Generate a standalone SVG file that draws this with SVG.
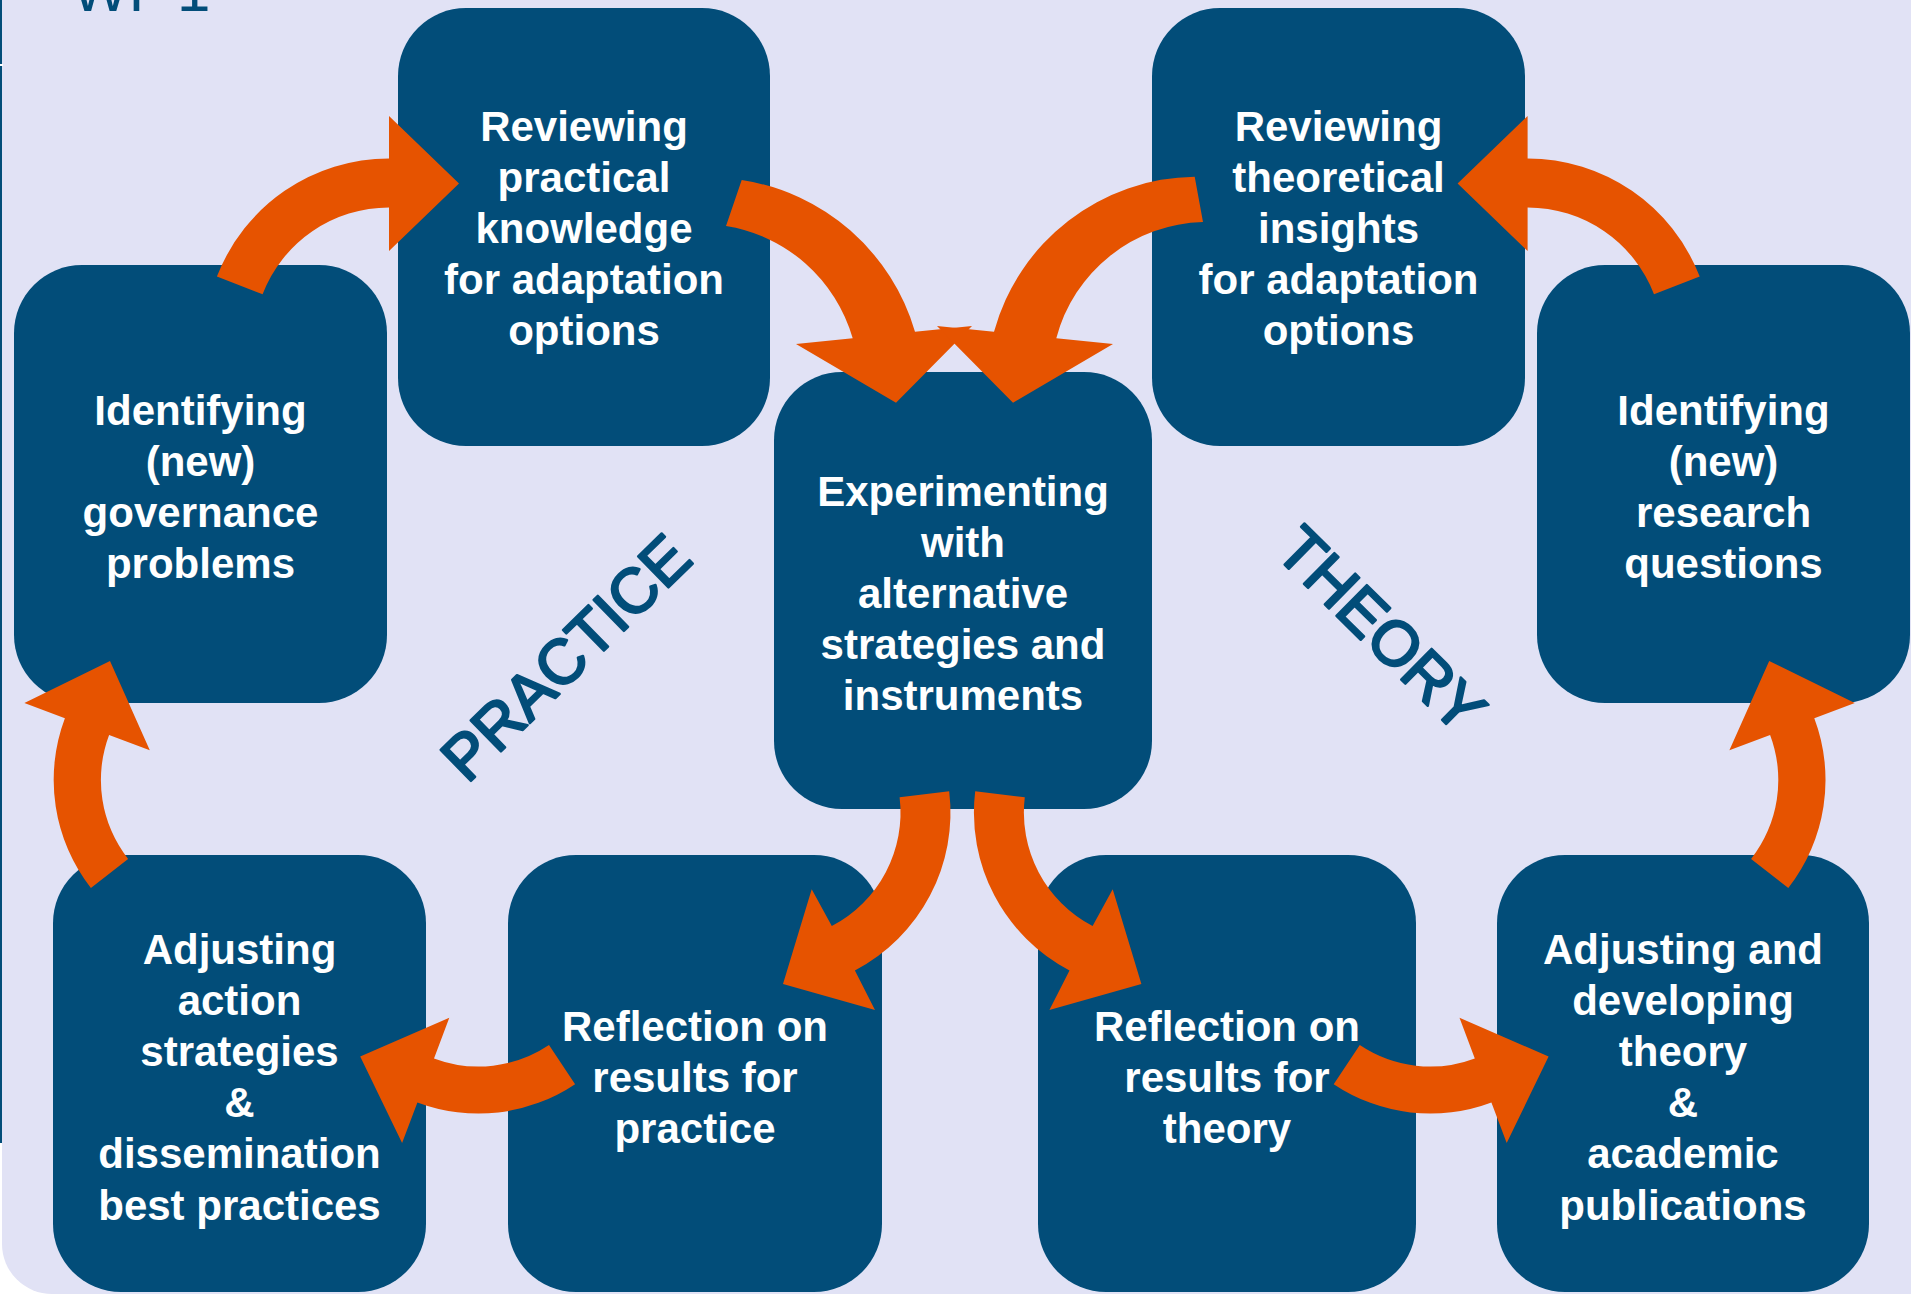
<svg xmlns="http://www.w3.org/2000/svg" width="1911" height="1294" viewBox="0 0 1911 1294">
  <style>
    .box { fill: #024D79; }
    .label { font-family: "Liberation Sans", Arial, sans-serif; font-weight: bold; font-size: 42px; fill: #FFFFFF; text-anchor: middle; }
    .arrow { fill: #E65300; }
    .side { font-family: "Liberation Sans", Arial, sans-serif; font-size: 63px; fill: #024D79; stroke: #024D79; stroke-width: 2.4; stroke-linejoin: round; text-anchor: middle; }
    .title { font-family: "Liberation Sans", Arial, sans-serif; font-size: 60px; fill: #024D79; }
  </style>

  <!-- page and panel background -->
  <rect x="0" y="0" width="1911" height="1294" fill="#FFFFFF"/>
  <path d="M 2 -10 H 1921 V 1294 H 52 A 50 50 0 0 1 2 1244 Z" fill="#E1E2F5"/>
  <rect x="0" y="0" width="2" height="1143" fill="#024D79"/>
  <rect x="0" y="64" width="3" height="2" fill="#FFFFFF"/>
  <text class="title" y="11"><tspan x="72">WP</tspan><tspan x="177">1</tspan></text>

  <!-- process steps -->
  <g id="review-practical">
    <rect class="box" x="398" y="8" width="372" height="438" rx="68"/>
    <text class="label"><tspan x="584" y="140.6">Reviewing</tspan><tspan x="584" y="191.8">practical</tspan><tspan x="584" y="243">knowledge</tspan><tspan x="584" y="294.2">for adaptation</tspan><tspan x="584" y="345.4">options</tspan></text>
  </g>
  <g id="review-theoretical">
    <rect class="box" x="1152" y="8" width="373" height="438" rx="68"/>
    <text class="label"><tspan x="1338.5" y="140.6">Reviewing</tspan><tspan x="1338.5" y="191.8">theoretical</tspan><tspan x="1338.5" y="243">insights</tspan><tspan x="1338.5" y="294.2">for adaptation</tspan><tspan x="1338.5" y="345.4">options</tspan></text>
  </g>
  <g id="governance-problems">
    <rect class="box" x="14" y="265" width="373" height="438" rx="68"/>
    <text class="label"><tspan x="200.5" y="424.7">Identifying</tspan><tspan x="200.5" y="475.9">(new)</tspan><tspan x="200.5" y="527.1">governance</tspan><tspan x="200.5" y="578.3">problems</tspan></text>
  </g>
  <g id="research-questions">
    <rect class="box" x="1537" y="265" width="373" height="438" rx="68"/>
    <text class="label"><tspan x="1723.5" y="424.7">Identifying</tspan><tspan x="1723.5" y="475.9">(new)</tspan><tspan x="1723.5" y="527.1">research</tspan><tspan x="1723.5" y="578.3">questions</tspan></text>
  </g>
  <g id="experimenting">
    <rect class="box" x="774" y="372" width="378" height="437" rx="68"/>
    <text class="label"><tspan x="963" y="505.6">Experimenting</tspan><tspan x="963" y="556.8">with</tspan><tspan x="963" y="608">alternative</tspan><tspan x="963" y="659.2">strategies and</tspan><tspan x="963" y="710.4">instruments</tspan></text>
  </g>
  <g id="adjusting-action">
    <rect class="box" x="53" y="855" width="373" height="437" rx="68"/>
    <text class="label"><tspan x="239.5" y="963.5">Adjusting</tspan><tspan x="239.5" y="1014.7">action</tspan><tspan x="239.5" y="1065.9">strategies</tspan><tspan x="239.5" y="1117.1">&amp;</tspan><tspan x="239.5" y="1168.3">dissemination</tspan><tspan x="239.5" y="1219.5">best practices</tspan></text>
  </g>
  <g id="reflection-practice">
    <rect class="box" x="508" y="855" width="374" height="437" rx="68"/>
    <text class="label"><tspan x="695" y="1040.8">Reflection on</tspan><tspan x="695" y="1092">results for</tspan><tspan x="695" y="1143.2">practice</tspan></text>
  </g>
  <g id="reflection-theory">
    <rect class="box" x="1038" y="855" width="378" height="437" rx="68"/>
    <text class="label"><tspan x="1227" y="1040.8">Reflection on</tspan><tspan x="1227" y="1092">results for</tspan><tspan x="1227" y="1143.2">theory</tspan></text>
  </g>
  <g id="adjusting-theory">
    <rect class="box" x="1497" y="855" width="372" height="437" rx="68"/>
    <text class="label"><tspan x="1683" y="963.5">Adjusting and</tspan><tspan x="1683" y="1014.7">developing</tspan><tspan x="1683" y="1065.9">theory</tspan><tspan x="1683" y="1117.1">&amp;</tspan><tspan x="1683" y="1168.3">academic</tspan><tspan x="1683" y="1219.5">publications</tspan></text>
  </g>

  <!-- cycle side labels -->
  <text class="side" transform="translate(581,673) rotate(-44.4)" x="0" y="0">PRACTICE</text>
  <text class="side" transform="translate(1366,645) rotate(44.6)" x="0" y="0">THEORY</text>

  <!-- curved block arrows -->
  <g id="connectors">
    <!-- governance problems -> reviewing practical -->
    <path class="arrow" d="M 216.9 276.6 A 184.5 184.5 0 0 1 389 158.5 L 389 116 L 459 183.5 L 389 251 L 389 207.5 A 135.5 135.5 0 0 0 262.6 294.2 Z"/>
    <!-- research questions -> reviewing theoretical -->
    <path class="arrow" transform="matrix(-1 0 0 1 1916.6 0)" d="M 216.9 276.6 A 184.5 184.5 0 0 1 389 158.5 L 389 116 L 459 183.5 L 389 251 L 389 207.5 A 135.5 135.5 0 0 0 262.6 294.2 Z"/>
    <!-- reviewing practical -> experimenting -->
    <path class="arrow" d="M 741.7 180 A 214.4 214.4 0 0 1 915 331.7 L 972 326 L 896 402.7 L 796 344 L 852.7 338.3 A 157.6 157.6 0 0 0 726 226 Z"/>
    <!-- reviewing theoretical -> experimenting -->
    <path class="arrow" d="M 1194.7 176.7 A 211 211 0 0 0 994 331.7 L 937 326 L 1013 402.7 L 1113 344 L 1056.3 338.3 A 156 156 0 0 1 1203 222 Z"/>
    <!-- experimenting -> reflection on practice -->
    <path class="arrow" d="M 899.6 797.3 L 949.2 791.3 A 178 178 0 0 1 854.9 970.4 L 875 1010 L 783 984 L 811.7 889.3 L 831.8 926.1 A 128 128 0 0 0 899.6 797.3 Z"/>
    <!-- experimenting -> reflection on theory -->
    <path class="arrow" transform="matrix(-1 0 0 1 1924.4 0)" d="M 899.6 797.3 L 949.2 791.3 A 178 178 0 0 1 854.9 970.4 L 875 1010 L 783 984 L 811.7 889.3 L 831.8 926.1 A 128 128 0 0 0 899.6 797.3 Z"/>
    <!-- reflection on practice -> adjusting action -->
    <path class="arrow" d="M 575.1 1084.2 A 173.5 173.5 0 0 1 417.4 1102.4 L 402.1 1143.1 L 360.2 1056.5 L 449.3 1017.7 L 434 1058.4 A 126.5 126.5 0 0 0 549 1045.1 Z"/>
    <!-- reflection on theory -> adjusting theory -->
    <path class="arrow" transform="matrix(-1 0 0 1 1908.8 0)" d="M 575.1 1084.2 A 173.5 173.5 0 0 1 417.4 1102.4 L 402.1 1143.1 L 360.2 1056.5 L 449.3 1017.7 L 434 1058.4 A 126.5 126.5 0 0 0 549 1045.1 Z"/>
    <!-- adjusting action -> governance problems -->
    <path class="arrow" d="M 90.9 888 A 175.3 175.3 0 0 1 64.9 718.3 L 24.4 702.9 L 110 661 L 149.8 750.3 L 109.1 734.9 A 128.1 128.1 0 0 0 128.1 858.9 Z"/>
    <!-- adjusting theory -> research questions -->
    <path class="arrow" transform="matrix(-1 0 0 1 1879.2 0)" d="M 90.9 888 A 175.3 175.3 0 0 1 64.9 718.3 L 24.4 702.9 L 110 661 L 149.8 750.3 L 109.1 734.9 A 128.1 128.1 0 0 0 128.1 858.9 Z"/>
  </g>
</svg>
